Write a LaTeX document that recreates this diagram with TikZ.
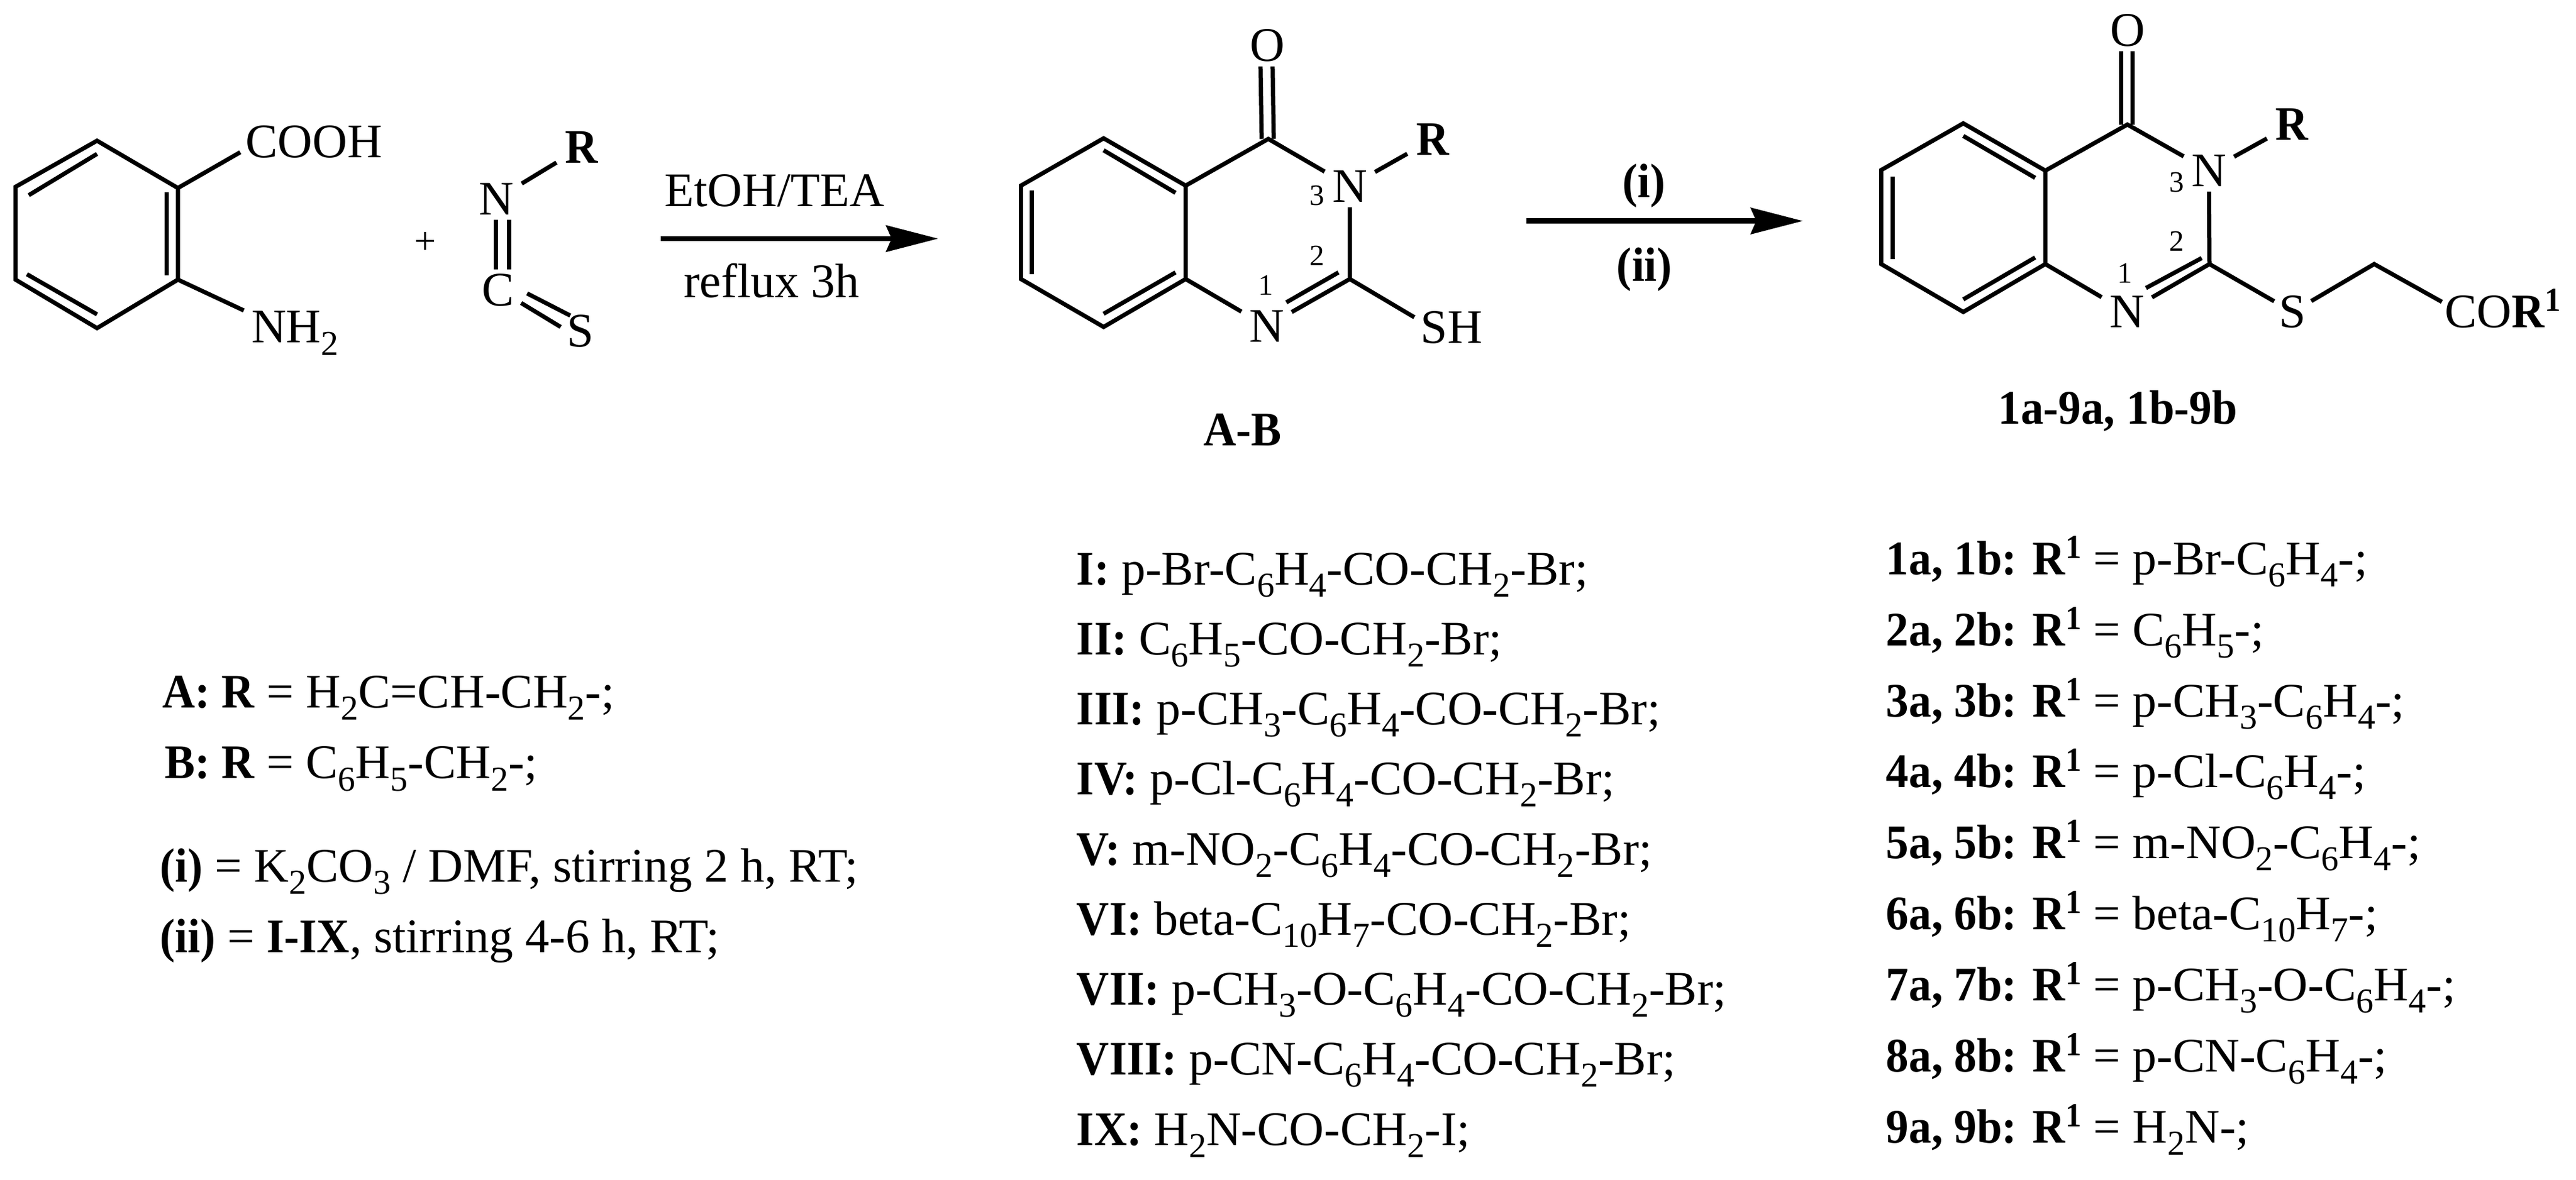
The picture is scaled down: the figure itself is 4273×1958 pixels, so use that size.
\documentclass[tikz,border=0pt]{standalone}
\usepackage{fontspec}
\setmainfont{Liberation Serif}[BoldFeatures={FakeStretch=0.94}]
\usetikzlibrary{arrows.meta,calc}
\newcommand{\sbs}[1]{\raisebox{-5.2pt}{\fontsize{14.5}{14.5}\selectfont #1}}
\newcommand{\sps}[1]{\raisebox{6.75pt}{\fontsize{14}{14}\selectfont\bfseries #1}}
\tikzset{
  bond/.style={line width=1.75pt,line cap=butt,line join=miter},
  rxarrow/.style={line width=2.2pt,-{Stealth[length=21.75pt,width=11.25pt,inset=2.5pt,line width=0pt]}},
  atom/.style={inner sep=0pt,minimum width=20.5pt,minimum height=17pt,font=\fontsize{20}{20}\selectfont},
  satom/.style={inner sep=0pt,minimum width=15pt,minimum height=13pt,font=\fontsize{20}{20}\selectfont},
  ratom/.style={atom,font=\fontsize{20}{20}\selectfont\bfseries},
  grouptxt/.style={inner xsep=1.25pt,inner ysep=0pt,font=\fontsize{20}{20}\selectfont},
  numlabel/.style={inner sep=0pt,font=\fontsize{12.25}{12.25}\selectfont},
  captxt/.style={inner sep=0pt,font=\fontsize{20}{20}\selectfont\bfseries},
  reag/.style={inner sep=0pt,font=\fontsize{20}{20}\selectfont},
  linetxt/.style={inner sep=0pt,anchor=base west,font=\fontsize{20}{20}\selectfont},
  crop/.style={x=0.2484pt,y=-0.2484pt},
}
\begin{document}
\begin{tikzpicture}[x=0.25pt,y=-0.25pt]
\useasboundingbox (0,0) rectangle (4273,1958);

\begin{scope}[crop]
% ---- anthranilic acid
\coordinate (a1) at (162,235);
\coordinate (a2) at (297,314);
\coordinate (a3) at (297,467);
\coordinate (a4) at (162,548);
\coordinate (a5) at (26,467);
\coordinate (a6) at (26,312);
\coordinate (a1i) at (162,257);
\coordinate (a6i) at (48,326);
\coordinate (a2i) at (278,321);
\coordinate (a3i) at (278,460);
\coordinate (a4i) at (162,525);
\coordinate (a5i) at (45,458);
\node[grouptxt,inner xsep=2pt] (cooh) at (524,237) {COOH};
\node[linetxt,inner xsep=3pt] (nh2) at (407,572) {NH\sbs{2}};
\draw[bond] (a1)--(a2)--(a3)--(a4)--(a5)--(a6)--cycle;
\draw[bond] (a1i)--(a6i);
\draw[bond] (a2i)--(a3i);
\draw[bond] (a4i)--(a5i);
\draw[bond] (a2)--(cooh.188);
\draw[bond] (a3)--(nh2.north west);
\node[reag,font=\fontsize{16}{16}\selectfont] (plus) at (710,406) {+};

% ---- isothiocyanate
\node[atom] (in) at (829,332) {N};
\node[ratom] (ir) at (971,246) {R};
\node[atom] (ic) at (832,485) {C};
\node[atom] (is) at (969,553) {S};
\coordinate (cs1a) at (880,490);
\coordinate (cs1b) at (952,527);
\coordinate (cs2a) at (870,506);
\coordinate (cs2b) at (936,546);
\draw[bond] (in)--(ir);
\draw[bond] ([xshift=-0.25pt]in.south)--([xshift=-1pt]ic.north);
\draw[bond] ([xshift=5.25pt]in.south)--([xshift=4.5pt]ic.north);
\draw[bond] (cs1a)--(cs1b);
\draw[bond] (cs2a)--(cs2b);

% ---- first arrow
\coordinate (ar1s) at (1103,398.5);
\coordinate (ar1e) at (1566,398.5);
\draw[rxarrow] (ar1s)--(ar1e);
\node[reag,anchor=base] (etoh) at (1293,345) {EtOH/TEA};
\node[reag,anchor=base] (refl) at (1288,497) {reflux 3h};
\end{scope}

\begin{scope}[crop,xshift=2.6pt]
% ---- quinazolinone A-B
\coordinate (b1) at (1832,231);
\coordinate (b2) at (1969,310);
\coordinate (b3) at (1969,466);
\coordinate (b4) at (1832,546);
\coordinate (b5) at (1694,466);
\coordinate (b6) at (1694,310);
\coordinate (b1i) at (1832,251);
\coordinate (b2i) at (1952,322);
\coordinate (b3i) at (1952,455);
\coordinate (b4i) at (1832,524);
\coordinate (b5i) at (1712,458);
\coordinate (b6i) at (1712,318);
\coordinate (bc4) at (2107,232);
\coordinate (bc2) at (2243,466);
\coordinate (bd1) at (2224,455);
\coordinate (bd2) at (2137,505);
\node[atom] (bo) at (2105,76) {O};
\node[atom] (bn3) at (2243,311) {N};
\node[ratom] (br) at (2381,233) {R};
\node[atom] (bn1) at (2104,545) {N};
\node[grouptxt,inner xsep=2.5pt] (bsh) at (2413,546.5) {SH};
\draw[bond] (b1)--(b2)--(b3)--(b4)--(b5)--(b6)--cycle;
\draw[bond] (b1i)--(b2i);
\draw[bond] (b3i)--(b4i);
\draw[bond] (b5i)--(b6i);
\draw[bond] (b2)--(bc4)--(bn3);
\draw[bond] (bn3)--(br);
\draw[bond] (bn3)--(bc2)--(bn1);
\draw[bond] (bd1)--(bd2);
\draw[bond] (bn1)--(b3);
\draw[bond] (bc2)--(bsh.165);
\draw[bond] ([xshift=-2.75pt]bo.south)--([xshift=-2.75pt]bc4);
\draw[bond] ([xshift=2.25pt]bo.south)--([xshift=2.25pt]bc4);
\node[numlabel] (bl3) at (2188,327) {3};
\node[numlabel] (bl2) at (2188,427) {2};
\node[numlabel] (bl1) at (2103,476) {1};
\node[captxt,anchor=base] (bcap) at (2064,744) {A-B};

% ---- second arrow
\coordinate (ar2s) at (2538,369);
\coordinate (ar2e) at (2999,369);
\draw[rxarrow] (ar2s)--(ar2e);
\node[captxt] (ri) at (2734,310) {(i)};
\node[captxt] (rii) at (2735,450) {(ii)};
\end{scope}

\begin{scope}[crop,xshift=4.875pt]
% ---- products
\coordinate (c1) at (3258,206);
\coordinate (c2) at (3395,285);
\coordinate (c3) at (3395,441);
\coordinate (c4) at (3258,521);
\coordinate (c5) at (3121,441);
\coordinate (c6) at (3121,284);
\coordinate (c1i) at (3258,227);
\coordinate (c2i) at (3378,297);
\coordinate (c3i) at (3378,430);
\coordinate (c4i) at (3258,500);
\coordinate (c5i) at (3140,433);
\coordinate (c6i) at (3140,295);
\coordinate (cc4) at (3532,208);
\coordinate (cc2) at (3669,441);
\coordinate (cd1) at (3656,431);
\coordinate (cd2) at (3563,481);
\coordinate (cch) at (3944,441);
\node[atom] (co) at (3532,51) {O};
\node[atom] (cn3) at (3668,285) {N};
\node[ratom] (cr) at (3807,208) {R};
\node[atom] (cn1) at (3531,521) {N};
\node[satom] (cs) at (3808,521) {S};
\node[linetxt,inner xsep=1pt] (ccor) at (4057,546.6) {CO\textbf{R}\sps{1}};
\draw[bond] (c1)--(c2)--(c3)--(c4)--(c5)--(c6)--cycle;
\draw[bond] (c1i)--(c2i);
\draw[bond] (c3i)--(c4i);
\draw[bond] (c5i)--(c6i);
\draw[bond] (c2)--(cc4)--(cn3);
\draw[bond] (cn3)--(cr);
\draw[bond] (cn3)--(cc2)--(cn1);
\draw[bond] (cd1)--(cd2);
\draw[bond] (cn1)--(c3);
\draw[bond] (cc2)--(cs);
\draw[bond] (cs)--(cch)--(ccor.174);
\draw[bond] ([xshift=-2.5pt]co.south)--([xshift=-2.5pt]cc4);
\draw[bond] ([xshift=2.25pt]co.south)--([xshift=2.25pt]cc4);
\node[numlabel] (cl3) at (3614,304) {3};
\node[numlabel] (cl2) at (3614,403) {2};
\node[numlabel] (cl1) at (3528,456) {1};
\node[captxt,anchor=base] (ccap) at (3516,708) {1a-9a, 1b-9b};
\end{scope}

% ---- left legend
\node[linetxt] (la) at (268.6,1174) {\textbf{A: R} = H\sbs{2}C=CH-CH\sbs{2}-;};
\node[linetxt] (lb) at (272.5,1291.5) {\textbf{B: R} = C\sbs{6}H\sbs{5}-CH\sbs{2}-;};
\node[linetxt] (li) at (264.6,1463) {\textbf{(i)} = K\sbs{2}CO\sbs{3} / DMF, stirring 2 h, RT;};
\node[linetxt] (lii) at (264.6,1580.5) {\textbf{(ii)} = \textbf{I-IX}, stirring 4-6 h, RT;};

% ---- reagents
\node[linetxt] (m1) at (1785,970) {\textbf{I:} p-Br-C\sbs{6}H\sbs{4}-CO-CH\sbs{2}-Br;};
\node[linetxt] (m2) at (1785,1086) {\textbf{II:} C\sbs{6}H\sbs{5}-CO-CH\sbs{2}-Br;};
\node[linetxt] (m3) at (1785,1202) {\textbf{III:} p-CH\sbs{3}-C\sbs{6}H\sbs{4}-CO-CH\sbs{2}-Br;};
\node[linetxt] (m4) at (1785,1318) {\textbf{IV:} p-Cl-C\sbs{6}H\sbs{4}-CO-CH\sbs{2}-Br;};
\node[linetxt] (m5) at (1785,1435) {\textbf{V:} m-NO\sbs{2}-C\sbs{6}H\sbs{4}-CO-CH\sbs{2}-Br;};
\node[linetxt] (m6) at (1785,1551) {\textbf{VI:} beta-C\sbs{10}H\sbs{7}-CO-CH\sbs{2}-Br;};
\node[linetxt] (m7) at (1785,1667) {\textbf{VII:} p-CH\sbs{3}-O-C\sbs{6}H\sbs{4}-CO-CH\sbs{2}-Br;};
\node[linetxt] (m8) at (1785,1783) {\textbf{VIII:} p-CN-C\sbs{6}H\sbs{4}-CO-CH\sbs{2}-Br;};
\node[linetxt] (m9) at (1785,1900) {\textbf{IX:} H\sbs{2}N-CO-CH\sbs{2}-I;};

% ---- products legend
\node[linetxt] (r1) at (3128,953) {\textbf{1a, 1b: R}\sps{1} = p-Br-C\sbs{6}H\sbs{4}-;};
\node[linetxt] (r2) at (3128,1071) {\textbf{2a, 2b: R}\sps{1} = C\sbs{6}H\sbs{5}-;};
\node[linetxt] (r3) at (3128,1189) {\textbf{3a, 3b: R}\sps{1} = p-CH\sbs{3}-C\sbs{6}H\sbs{4}-;};
\node[linetxt] (r4) at (3128,1306) {\textbf{4a, 4b: R}\sps{1} = p-Cl-C\sbs{6}H\sbs{4}-;};
\node[linetxt] (r5) at (3128,1424) {\textbf{5a, 5b: R}\sps{1} = m-NO\sbs{2}-C\sbs{6}H\sbs{4}-;};
\node[linetxt] (r6) at (3128,1542) {\textbf{6a, 6b: R}\sps{1} = beta-C\sbs{10}H\sbs{7}-;};
\node[linetxt] (r7) at (3128,1660) {\textbf{7a, 7b: R}\sps{1} = p-CH\sbs{3}-O-C\sbs{6}H\sbs{4}-;};
\node[linetxt] (r8) at (3128,1778) {\textbf{8a, 8b: R}\sps{1} = p-CN-C\sbs{6}H\sbs{4}-;};
\node[linetxt] (r9) at (3128,1896) {\textbf{9a, 9b: R}\sps{1} = H\sbs{2}N-;};
\end{tikzpicture}
\end{document}
